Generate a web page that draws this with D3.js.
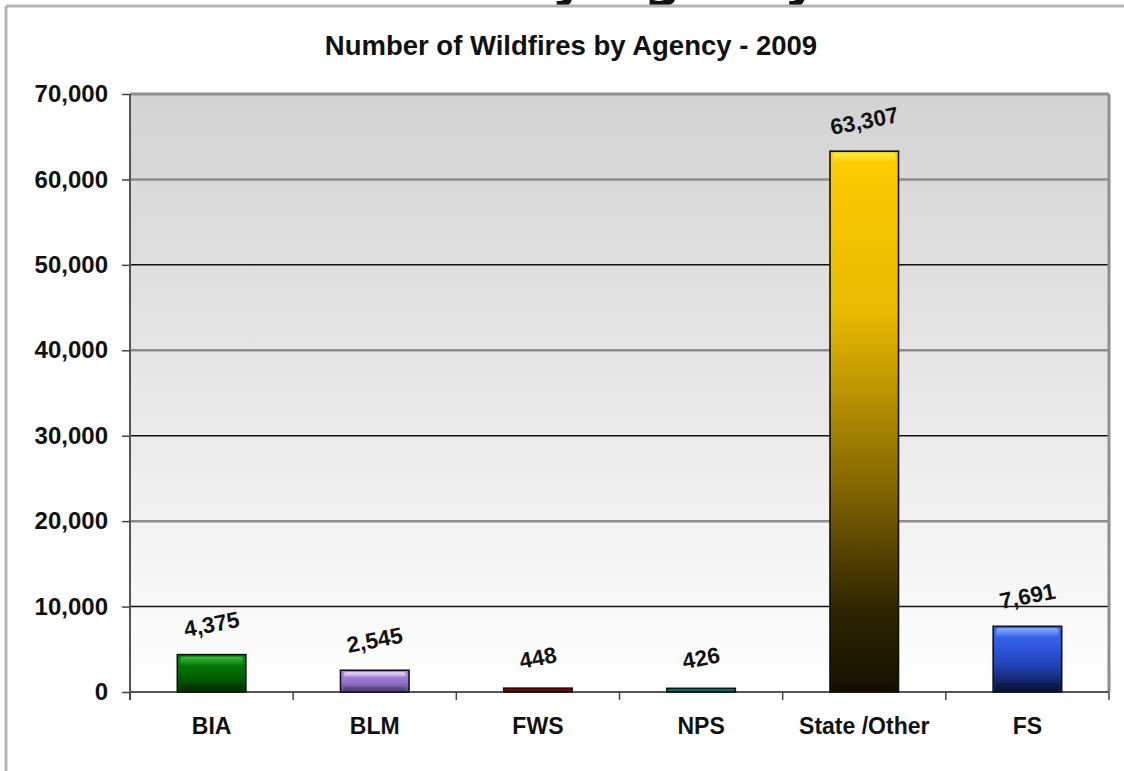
<!DOCTYPE html>
<html>
<head>
<meta charset="utf-8">
<script src="https://cdn.jsdelivr.net/npm/d3@7"></script>
<style>
  html, body { margin: 0; padding: 0; background: #ffffff; }
  svg { display: block; }
  text { font-family: "Liberation Sans", Arial, sans-serif; font-weight: bold; fill: #111; }
</style>
</head>
<body>
<svg id="chart" width="1124" height="771"></svg>
<script>
// ---- data ----
const categories = ["BIA", "BLM", "FWS", "NPS", "State /Other", "FS"];
const values = [4375, 2545, 448, 426, 63307, 7691];
const valueLabels = ["4,375", "2,545", "448", "426", "63,307", "7,691"];
const yTicks = [0, 10000, 20000, 30000, 40000, 50000, 60000, 70000];
const yTickLabels = ["0", "10,000", "20,000", "30,000", "40,000", "50,000", "60,000", "70,000"];
const chartTitle = "Number of Wildfires by Agency - 2009";
const slideTitle = "Wildfires by Agency";
// bar colour stops: [top, middle, bottom, highlight]
const barColors = [
  ["#0b8a0b", "#006400", "#013a01", "#3cbc3c"],
  ["#b08ee0", "#9473c8", "#5e4590", "#f1e4ff"],
  ["#8a0c0c", "#780000", "#4a0000", "#b04040"],
  ["#0a8a80", "#00756c", "#00453f", "#40b8b0"],
  ["#ffcc00", "#9a7a00", "#1a1400", "#fff050"],
  ["#3d6cff", "#2347c0", "#0b1640", "#8fb0ff"]
];

const svg = d3.select("#chart");
const W = 1124, H = 771;
const m = { left: 130, right: 1109, top: 94, bottom: 692 };

const x = d3.scaleBand().domain(categories).range([m.left, m.right]).paddingInner(0).paddingOuter(0);
const y = d3.scaleLinear().domain([0, 70000]).range([m.bottom, m.top]);

const defs = svg.append("defs");
const bg = defs.append("linearGradient").attr("id", "plotbg").attr("x1", 0).attr("y1", 0).attr("x2", 0).attr("y2", 1);
bg.append("stop").attr("offset", "0%").attr("stop-color", "#d3d3d3");
bg.append("stop").attr("offset", "55%").attr("stop-color", "#eaeaea");
bg.append("stop").attr("offset", "100%").attr("stop-color", "#ffffff");

barColors.forEach((c, i) => {
  const g = defs.append("linearGradient").attr("id", "bar" + i).attr("x1", 0).attr("y1", 0).attr("x2", 0).attr("y2", 1);
  if (i === 4) {
    g.append("stop").attr("offset", "0%").attr("stop-color", "#ffcc00");
    g.append("stop").attr("offset", "30%").attr("stop-color", "#e8b900");
    g.append("stop").attr("offset", "60%").attr("stop-color", "#8a6c00");
    g.append("stop").attr("offset", "85%").attr("stop-color", "#2e2400");
    g.append("stop").attr("offset", "100%").attr("stop-color", "#151100");
  } else {
    g.append("stop").attr("offset", "0%").attr("stop-color", c[0]);
    g.append("stop").attr("offset", "55%").attr("stop-color", c[1]);
    g.append("stop").attr("offset", "100%").attr("stop-color", c[2]);
  }
  const h = defs.append("linearGradient").attr("id", "hl" + i).attr("x1", 0).attr("y1", 0).attr("x2", 0).attr("y2", 1);
  h.append("stop").attr("offset", "0%").attr("stop-color", c[3]).attr("stop-opacity", 0.95);
  h.append("stop").attr("offset", "100%").attr("stop-color", c[3]).attr("stop-opacity", 0);
});

// slide title (cut off at top of the page, as in the source screenshot)
svg.append("text").attr("x", 818).attr("y", -4).attr("text-anchor", "end")
  .style("font-family", "'DejaVu Sans', sans-serif").style("font-size", "52px").text(slideTitle);

// outer frame
svg.append("line").attr("x1", 6).attr("x2", W).attr("y1", 6).attr("y2", 6).attr("stroke", "#b4b4b4").attr("stroke-width", 3);
svg.append("line").attr("x1", 6).attr("x2", 6).attr("y1", 6).attr("y2", H).attr("stroke", "#b4b4b4").attr("stroke-width", 3);

// chart title
svg.append("text").attr("x", 571).attr("y", 55).attr("text-anchor", "middle")
  .style("font-size", "27.5px").text(chartTitle);

// plot background
svg.append("rect").attr("x", m.left).attr("y", m.top).attr("width", m.right - m.left).attr("height", m.bottom - m.top)
  .attr("fill", "url(#plotbg)");

// gridlines
yTicks.filter(v => v > 0 && v < 70000).forEach(v => {
  const major = (v / 10000) % 2 === 1;
  svg.append("line").attr("x1", m.left).attr("x2", m.right).attr("y1", y(v)).attr("y2", y(v))
    .attr("stroke", major ? "#111" : "#8c8c8c").attr("stroke-width", major ? 1.5 : 2.5);
});
// top and right borders
svg.append("line").attr("x1", m.left).attr("x2", m.right).attr("y1", m.top).attr("y2", m.top).attr("stroke", "#8f8f8f").attr("stroke-width", 3);
svg.append("line").attr("x1", m.right).attr("x2", m.right).attr("y1", m.top).attr("y2", m.bottom).attr("stroke", "#8f8f8f").attr("stroke-width", 3);

// y axis
const yAxis = d3.axisLeft(y).tickValues(yTicks).tickSize(8).tickPadding(14)
  .tickFormat((d, i) => yTickLabels[i]);
const yg = svg.append("g").attr("transform", `translate(${m.left},0)`).call(yAxis);
yg.select(".domain").attr("stroke", "#555").attr("stroke-width", 2).attr("d", `M0,${m.top}V${m.bottom + 8}`);
yg.selectAll(".tick line").attr("stroke", "#444").attr("stroke-width", 1.5);
yg.selectAll(".tick text").style("font-size", "24px").style("font-family", "'Liberation Sans', Arial, sans-serif").style("font-weight", "bold").attr("fill", "#111");

// x axis
const xAxis = d3.axisBottom(x).tickSize(0).tickPadding(26);
const xg = svg.append("g").attr("transform", `translate(0,${m.bottom})`).call(xAxis);
xg.select(".domain").attr("stroke", "#555").attr("stroke-width", 2).attr("d", `M${m.left},0H${m.right}`);
xg.selectAll(".tick text").style("font-size", "23px").style("font-family", "'Liberation Sans', Arial, sans-serif").style("font-weight", "bold").attr("fill", "#111");
// category boundary ticks
const bounds = categories.map(c => x(c)).concat([m.right]);
xg.selectAll(".bound").data(bounds).enter().append("line")
  .attr("x1", d => d).attr("x2", d => d).attr("y1", 0).attr("y2", 8)
  .attr("stroke", "#444").attr("stroke-width", 1.5);

// bars
const bw = x.bandwidth() * 0.42;
const bars = svg.append("g").selectAll("g.bar").data(values).enter().append("g");
bars.each(function (v, i) {
  const g = d3.select(this);
  const cx = x(categories[i]) + x.bandwidth() / 2;
  const x0 = cx - bw / 2;
  const top = y(v), bh = y(0) - y(v);
  g.append("rect").attr("x", x0).attr("y", top).attr("width", bw).attr("height", bh)
    .attr("fill", "url(#bar" + i + ")").attr("stroke", "#111").attr("stroke-width", 1.6);
  if (bh > 12) {
    // top highlight
    g.append("rect").attr("x", x0 + 3).attr("y", top + 2).attr("width", bw - 6).attr("height", Math.min(9, bh * 0.25))
      .attr("rx", 3).attr("fill", "url(#hl" + i + ")");
    // bottom shade
    g.append("rect").attr("x", x0 + 3).attr("y", y(0) - Math.min(8, bh * 0.2) - 1).attr("width", bw - 6).attr("height", Math.min(8, bh * 0.2))
      .attr("rx", 3).attr("fill", "#000").attr("opacity", 0.18);
  }
  g.append("text").attr("text-anchor", "middle").attr("dominant-baseline", "central")
    .attr("transform", `translate(${cx},${top - 30}) rotate(-11)`)
    .style("font-size", "22.5px").text(valueLabels[i]);
});
</script>
</body>
</html>
